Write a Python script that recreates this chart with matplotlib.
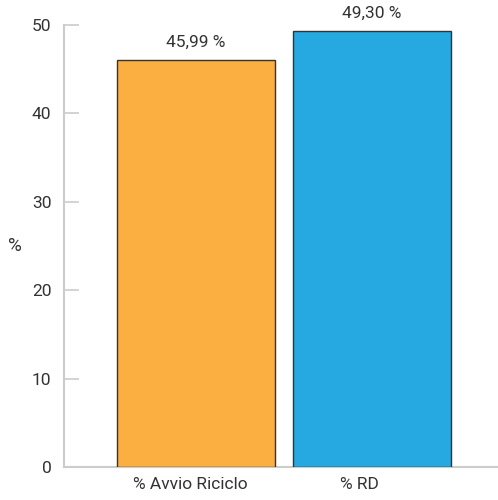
import matplotlib.pyplot as plt
import numpy as np

categories = ["% Avvio Riciclo", "% RD"]
values = [45.99, 49.30]
value_labels = ["45,99 %", "49,30 %"]
colors = ["#FBAF41", "#25A9E0"]
yticks = [0, 10, 20, 30, 40, 50]

plt.rcParams['font.family'] = ['Roboto', 'DejaVu Sans']
txt = '#333333'
axc = '#cccccc'
fs = 12.5

fig = plt.figure(figsize=(4.98, 5.0), dpi=100)
ax = fig.add_axes([64/498, 33/500, 434/498, 442/500])

x = np.arange(len(categories))
ax.bar(x, values, width=0.9, color=colors, edgecolor='#333333', linewidth=1.0, zorder=3)
for xi, v, lab in zip(x, values, value_labels):
    ax.text(xi, v + 1.2, lab, ha='center', va='bottom', fontsize=fs, color=txt)

ax.set_xlim(-0.75, 1.716)
ax.set_ylim(0, 50)
ax.set_yticks(yticks)
ax.set_xticks(x - np.array([0.035, 0.07]))
ax.set_xticklabels(categories)
ax.tick_params(axis='x', length=0, pad=7, labelsize=fs, labelcolor=txt)
ax.tick_params(axis='y', direction='in', length=11, width=1.2, color=axc, pad=9,
               labelsize=fs, labelcolor=txt)
ax.set_ylabel('%', rotation=0, fontsize=fs + 1, color=txt, labelpad=12, va='center')

for s in ['top', 'right']:
    ax.spines[s].set_visible(False)
for s in ['left', 'bottom']:
    ax.spines[s].set_color(axc)
    ax.spines[s].set_linewidth(1.5)

fig.savefig('out.png', dpi=100)
